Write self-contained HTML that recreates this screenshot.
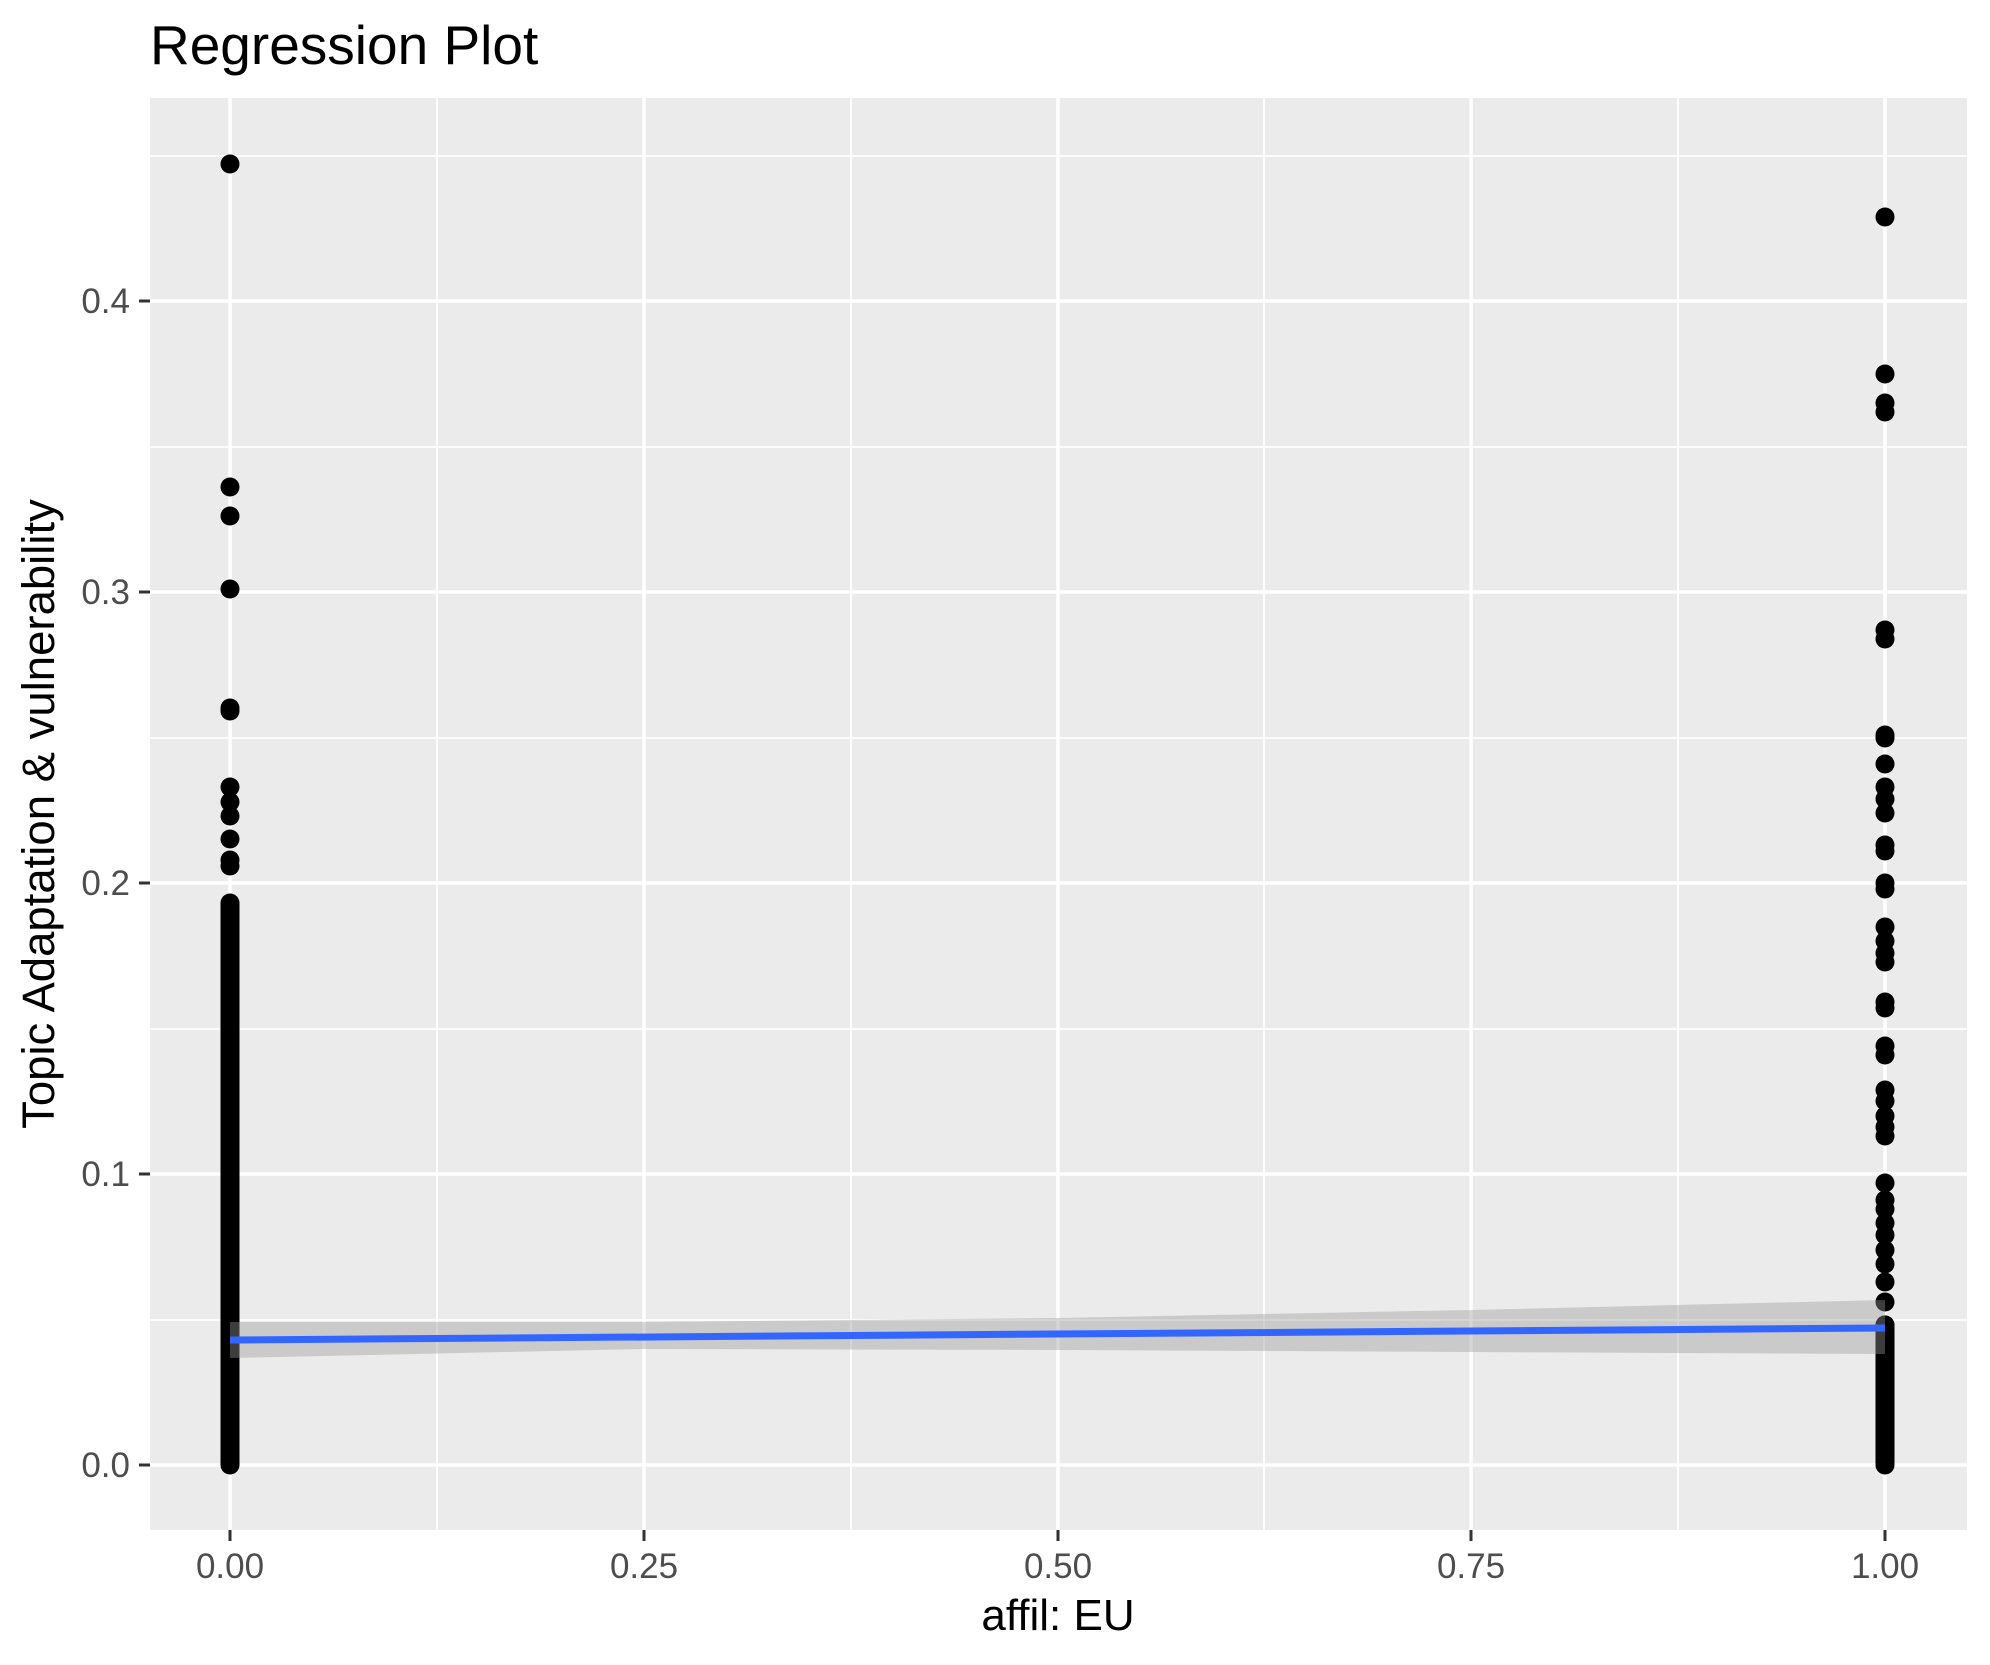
<!DOCTYPE html>
<html><head><meta charset="utf-8"><style>
html,body{margin:0;padding:0;background:#fff;}
svg{display:block;font-family:"Liberation Sans",Arial,sans-serif;}
</style></head><body>
<svg width="1990" height="1665" viewBox="0 0 1990 1665" xmlns="http://www.w3.org/2000/svg">
<rect width="1990" height="1665" fill="#fff"/>
<text x="150" y="64" font-size="55" fill="#000">Regression Plot</text>
<rect x="150" y="98" width="1817" height="1432" fill="#EBEBEB"/>
<g stroke="#fff" stroke-width="1.8">
<line x1="150" x2="1967" y1="1320" y2="1320"/><line x1="150" x2="1967" y1="1029" y2="1029"/>
<line x1="150" x2="1967" y1="738" y2="738"/><line x1="150" x2="1967" y1="447" y2="447"/>
<line x1="150" x2="1967" y1="156" y2="156"/>
<line y1="98" y2="1530" x1="437" x2="437"/><line y1="98" y2="1530" x1="851" x2="851"/>
<line y1="98" y2="1530" x1="1264" x2="1264"/><line y1="98" y2="1530" x1="1678" x2="1678"/>
</g>
<g stroke="#fff" stroke-width="3.5">
<line x1="150" x2="1967" y1="1465" y2="1465"/><line x1="150" x2="1967" y1="1174" y2="1174"/>
<line x1="150" x2="1967" y1="883" y2="883"/><line x1="150" x2="1967" y1="592" y2="592"/>
<line x1="150" x2="1967" y1="301" y2="301"/>
<line y1="98" y2="1530" x1="230" x2="230"/><line y1="98" y2="1530" x1="644" x2="644"/>
<line y1="98" y2="1530" x1="1058" x2="1058"/><line y1="98" y2="1530" x1="1471" x2="1471"/>
<line y1="98" y2="1530" x1="1885" x2="1885"/>
</g>
<g fill="#000">
<line x1="230" x2="230" y1="903" y2="1465" stroke="#000" stroke-width="19" stroke-linecap="round"/>
<line x1="1885" x2="1885" y1="1325" y2="1465" stroke="#000" stroke-width="19" stroke-linecap="round"/>
<g>
<circle cx="230" cy="164" r="9.5"/><circle cx="230" cy="487" r="9.5"/><circle cx="230" cy="516" r="9.5"/>
<circle cx="230" cy="589" r="9.5"/><circle cx="230" cy="708" r="9.5"/><circle cx="230" cy="711" r="9.5"/>
<circle cx="230" cy="787" r="9.5"/><circle cx="230" cy="802" r="9.5"/><circle cx="230" cy="816" r="9.5"/>
<circle cx="230" cy="839" r="9.5"/><circle cx="230" cy="860" r="9.5"/><circle cx="230" cy="866" r="9.5"/>
</g>
<g>
<circle cx="1885" cy="217" r="9.5"/><circle cx="1885" cy="374" r="9.5"/><circle cx="1885" cy="403" r="9.5"/>
<circle cx="1885" cy="412" r="9.5"/><circle cx="1885" cy="630" r="9.5"/><circle cx="1885" cy="639" r="9.5"/>
<circle cx="1885" cy="735" r="9.5"/><circle cx="1885" cy="738" r="9.5"/><circle cx="1885" cy="764" r="9.5"/>
<circle cx="1885" cy="787" r="9.5"/><circle cx="1885" cy="799" r="9.5"/><circle cx="1885" cy="813" r="9.5"/>
<circle cx="1885" cy="845" r="9.5"/><circle cx="1885" cy="851" r="9.5"/><circle cx="1885" cy="883" r="9.5"/>
<circle cx="1885" cy="889" r="9.5"/><circle cx="1885" cy="927" r="9.5"/><circle cx="1885" cy="941" r="9.5"/>
<circle cx="1885" cy="953" r="9.5"/><circle cx="1885" cy="962" r="9.5"/><circle cx="1885" cy="1002" r="9.5"/>
<circle cx="1885" cy="1008" r="9.5"/><circle cx="1885" cy="1046" r="9.5"/><circle cx="1885" cy="1055" r="9.5"/>
<circle cx="1885" cy="1090" r="9.5"/><circle cx="1885" cy="1101" r="9.5"/><circle cx="1885" cy="1116" r="9.5"/>
<circle cx="1885" cy="1127" r="9.5"/><circle cx="1885" cy="1136" r="9.5"/><circle cx="1885" cy="1183" r="9.5"/>
<circle cx="1885" cy="1200" r="9.5"/><circle cx="1885" cy="1209" r="9.5"/><circle cx="1885" cy="1223" r="9.5"/>
<circle cx="1885" cy="1235" r="9.5"/><circle cx="1885" cy="1250" r="9.5"/><circle cx="1885" cy="1264" r="9.5"/>
<circle cx="1885" cy="1282" r="9.5"/><circle cx="1885" cy="1302" r="9.5"/><circle cx="1885" cy="1325" r="9.5"/>
</g>
</g>
<polygon points="230,1322 644,1322 1058,1318 1471,1310 1885,1300 1885,1354 1471,1352 1058,1350 644,1349 230,1358" fill="#999999" fill-opacity="0.4"/>
<line x1="230" y1="1340" x2="1885" y2="1328" stroke="#3366FF" stroke-width="7"/>
<g stroke="#333" stroke-width="3">
<line x1="139" x2="150" y1="1465" y2="1465"/><line x1="139" x2="150" y1="1174" y2="1174"/>
<line x1="139" x2="150" y1="883" y2="883"/><line x1="139" x2="150" y1="592" y2="592"/>
<line x1="139" x2="150" y1="301" y2="301"/>
<line y1="1530" y2="1541" x1="230" x2="230"/><line y1="1530" y2="1541" x1="644" x2="644"/>
<line y1="1530" y2="1541" x1="1058" x2="1058"/><line y1="1530" y2="1541" x1="1471" x2="1471"/>
<line y1="1530" y2="1541" x1="1885" x2="1885"/>
</g>
<g font-size="35" fill="#4D4D4D" text-anchor="end">
<text x="130" y="1477">0.0</text><text x="130" y="1186">0.1</text><text x="130" y="895">0.2</text>
<text x="130" y="604">0.3</text><text x="130" y="313">0.4</text>
</g>
<g font-size="35" fill="#4D4D4D" text-anchor="middle">
<text x="230" y="1578">0.00</text><text x="644" y="1578">0.25</text><text x="1058" y="1578">0.50</text>
<text x="1471" y="1578">0.75</text><text x="1885" y="1578">1.00</text>
</g>
<text x="1058" y="1630" font-size="44" text-anchor="middle" fill="#000">affil: EU</text>
<text transform="translate(54,814) rotate(-90)" font-size="45.5" text-anchor="middle" fill="#000">Topic Adaptation &amp; vulnerability</text>
</svg>
</body></html>
